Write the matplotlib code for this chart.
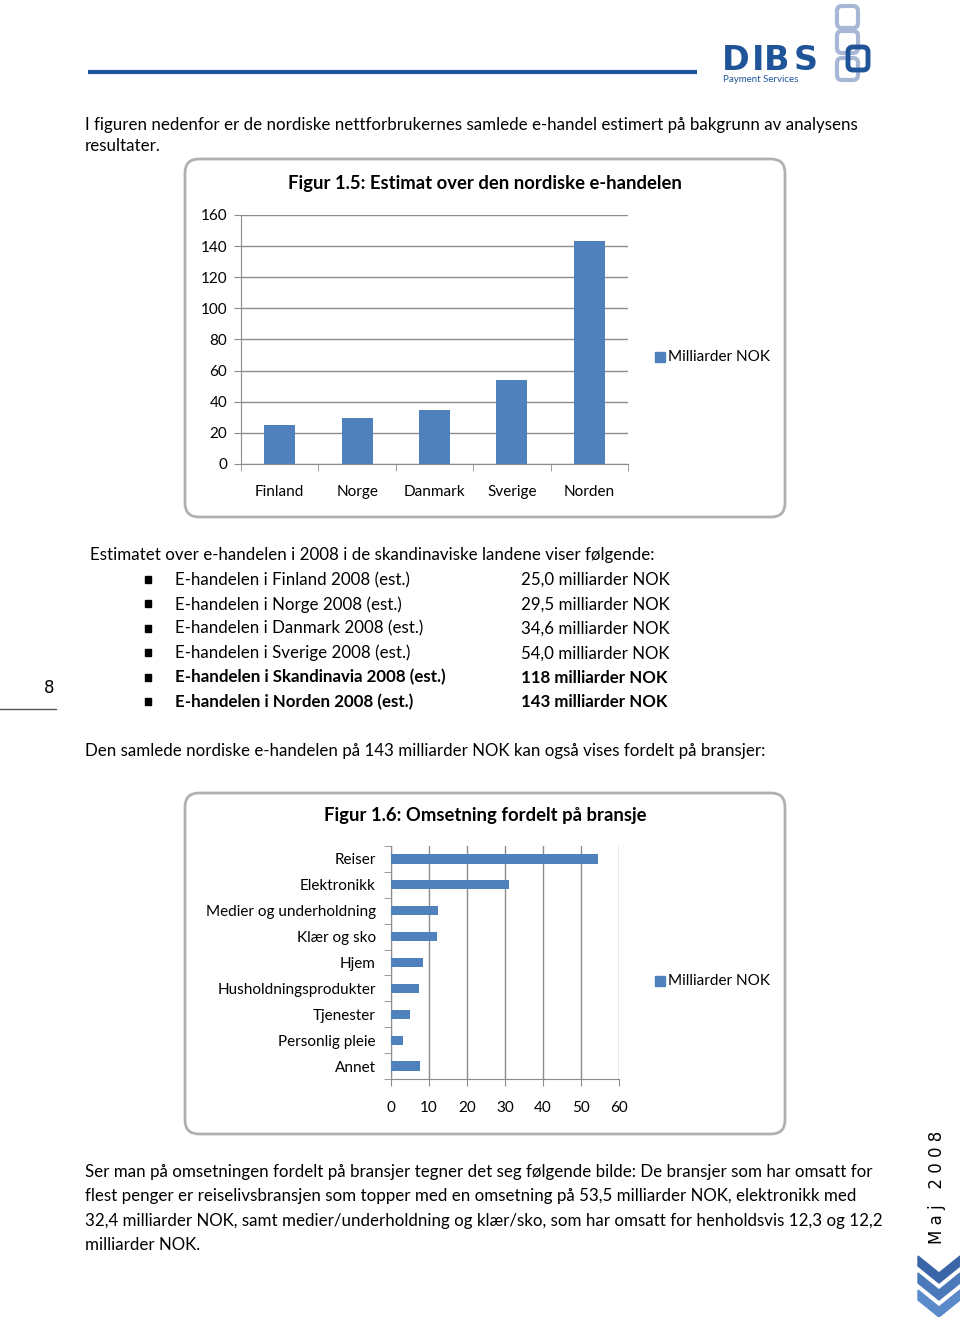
import matplotlib.pyplot as plt
from matplotlib.patches import FancyBboxPatch, Polygon, Rectangle

W, H = 960, 1317

# Figur 1.5 data
countries = ["Finland", "Norge", "Danmark", "Sverige", "Norden"]
country_values = [25.0, 29.5, 34.6, 54.0, 143.0]
y_ticks_1 = [0, 20, 40, 60, 80, 100, 120, 140, 160]

# Figur 1.6 data
sectors = ["Reiser", "Elektronikk", "Medier og underholdning", "Klær og sko", "Hjem",
           "Husholdningsprodukter", "Tjenester", "Personlig pleie", "Annet"]
sector_values = [54.4, 31.0, 12.4, 12.0, 8.4, 7.3, 5.1, 3.2, 7.5]
x_ticks_2 = [0, 10, 20, 30, 40, 50, 60]

series_name = "Milliarder NOK"
bullet_items = ["E-handelen i Finland 2008 (est.)", "E-handelen i Norge 2008 (est.)",
                "E-handelen i Danmark 2008 (est.)", "E-handelen i Sverige 2008 (est.)",
                "E-handelen i Skandinavia 2008 (est.)", "E-handelen i Norden 2008 (est.)"]
bullet_values = ["25,0 milliarder NOK", "29,5 milliarder NOK", "34,6 milliarder NOK",
                 "54,0 milliarder NOK", "118 milliarder NOK", "143 milliarder NOK"]
bullet_bold = [False, False, False, False, True, True]

BLUE = "#4f81bd"
GRID = "#8c8c8c"
BODY = "Lato"
CHART = "Lato"
BODY_SIZE = 12.15

plt.rcParams['font.family'] = [BODY, 'DejaVu Sans']

fig = plt.figure(figsize=(W / 100, H / 100), dpi=100)

# page overlay in pixel coords
page = fig.add_axes([0, 0, 1, 1])
page.set_xlim(0, W)
page.set_ylim(H, 0)
page.axis("off")


def px_axes(x0, y0, x1, y1):
    return fig.add_axes([x0 / W, 1 - y1 / H, (x1 - x0) / W, (y1 - y0) / H])


def txt(x, y, s, size=BODY_SIZE, **kw):
    page.text(x, y, s, fontsize=size, va="center", color="black", **kw)


# header line and logo
page.plot([88, 697], [72, 72], color="#1f5499", lw=3, solid_capstyle="butt")
for (x, y, c) in [(837, 6, "#a9b7d6"), (837, 31, "#a9b7d6"), (837, 58, "#a9b7d6")]:
    page.add_patch(FancyBboxPatch((x, y), 21, 22, boxstyle="round,pad=0,rounding_size=5",
                                  fill=False, ec=c, lw=3))
page.add_patch(FancyBboxPatch((848, 47), 20, 23, boxstyle="round,pad=0,rounding_size=5",
                              fill=False, ec="#1f5499", lw=3.5))
for k, ch in enumerate("DIBS"):
    page.text(722 + [0, 30, 42, 72][k], 61, ch, fontsize=24, fontweight="bold",
              color="#1f5499", va="center", ha="left", family="DejaVu Sans")
page.text(723, 80, "Payment Services", fontsize=7, color="#1f5499", va="center")

# intro text
txt(85, 125, "I figuren nedenfor er de nordiske nettforbrukernes samlede e-handel estimert på bakgrunn av analysens")
txt(85, 146, "resultater.")

# chart frames
for (x0, y0, x1, y1) in [(185, 159, 785, 517), (185, 793, 785, 1134)]:
    page.add_patch(FancyBboxPatch((x0, y0), x1 - x0, y1 - y0,
                                  boxstyle="round,pad=0,rounding_size=14",
                                  fill=False, ec="#b0b0b0", lw=2))

# ---- Figur 1.5 ----
txt(485, 183, "Figur 1.5: Estimat over den nordiske e-handelen", size=13.3,
    fontweight="bold", ha="center", family=CHART)
ax1 = px_axes(241, 215, 628, 464)
ax1.bar(range(len(countries)), country_values, width=0.4, color=BLUE, zorder=3)
ax1.set_xlim(-0.5, len(countries) - 0.5)
ax1.set_ylim(0, 160)
ax1.set_yticks(y_ticks_1)
ax1.set_xticks(range(len(countries)))
ax1.set_xticklabels(countries, family=CHART, fontsize=11)
ax1.set_yticklabels([str(v) for v in y_ticks_1], family=CHART, fontsize=11)
ax1.set_xticks([i - 0.5 for i in range(len(countries) + 1)], minor=True)
ax1.tick_params(axis="x", which="major", length=0, pad=15)
ax1.tick_params(axis="x", which="minor", length=5, color=GRID, direction="out")
ax1.tick_params(axis="y", length=5, color=GRID, pad=5)
ax1.yaxis.grid(True, color=GRID, lw=1, zorder=0)
for s in ["top", "right"]:
    ax1.spines[s].set_visible(False)
for s in ["left", "bottom"]:
    ax1.spines[s].set_color(GRID)
ax1.set_facecolor("none")

page.add_patch(Rectangle((655, 352), 10, 10, color=BLUE))
txt(668, 357, series_name, size=11, family=CHART)

# ---- bullet list ----
txt(90, 555, "Estimatet over e-handelen i 2008 i de skandinaviske landene viser følgende:")
for i, (item, val, b) in enumerate(zip(bullet_items, bullet_values, bullet_bold)):
    y = 580 + i * 24.4
    page.add_patch(Rectangle((145, y - 4), 6, 7, color="black"))
    w = "bold" if b else "normal"
    txt(175, y, item, fontweight=w)
    txt(521, y, val, fontweight=w)

# page number
page.text(49, 688, "8", fontsize=12, ha="center", va="center", family="DejaVu Sans")
page.plot([0, 56], [709, 709], color="#555555", lw=1)

txt(85, 751, "Den samlede nordiske e-handelen på 143 milliarder NOK kan også vises fordelt på bransjer:")

# ---- Figur 1.6 ----
txt(485, 815, "Figur 1.6: Omsetning fordelt på bransje", size=13.3, fontweight="bold",
    ha="center")
ax2 = px_axes(391, 846, 619, 1079)
ax2.barh(range(len(sectors)), sector_values, height=0.36, color=BLUE, zorder=3)
ax2.set_ylim(len(sectors) - 0.5, -0.5)
ax2.set_xlim(0, 60)
ax2.set_xticks(x_ticks_2)
ax2.set_xticklabels([str(v) for v in x_ticks_2], family=CHART, fontsize=11)
ax2.set_yticks(range(len(sectors)))
ax2.set_yticklabels(sectors, family=CHART, fontsize=11)
ax2.set_yticks([i - 0.5 for i in range(len(sectors) + 1)], minor=True)
ax2.tick_params(axis="y", which="major", length=0, pad=11)
ax2.tick_params(axis="y", which="minor", length=5, color=GRID, direction="out")
ax2.tick_params(axis="x", length=5, color=GRID, pad=11)
ax2.xaxis.grid(True, color=GRID, lw=1, zorder=0)
for s in ["top", "right"]:
    ax2.spines[s].set_visible(False)
for s in ["left", "bottom"]:
    ax2.spines[s].set_color(GRID)
ax2.set_facecolor("none")

page.add_patch(Rectangle((655, 976), 10, 10, color=BLUE))
txt(668, 981, series_name, size=11, family=CHART)

# closing paragraph
closing = [
    "Ser man på omsetningen fordelt på bransjer tegner det seg følgende bilde: De bransjer som har omsatt for",
    "flest penger er reiselivsbransjen som topper med en omsetning på 53,5 milliarder NOK, elektronikk med",
    "32,4 milliarder NOK, samt medier/underholdning og klær/sko, som har omsatt for henholdsvis 12,3 og 12,2",
    "milliarder NOK.",
]
for i, line in enumerate(closing):
    txt(85, 1172 + i * 24.4, line)

# side marker
page.text(937, 1187, "M a j   2 0 0 8", fontsize=12, rotation=90, ha="center", va="center",
          family="DejaVu Sans")
for k, c in enumerate(["#3a65a8", "#4a78b8", "#5b8acb"]):
    y0 = 1256 + k * 17
    page.add_patch(Polygon([(918, y0), (939, y0 + 17), (960, y0), (960, y0 + 10),
                            (939, y0 + 27), (918, y0 + 10)], closed=True, color=c))

fig.savefig("out.png", dpi=100)
